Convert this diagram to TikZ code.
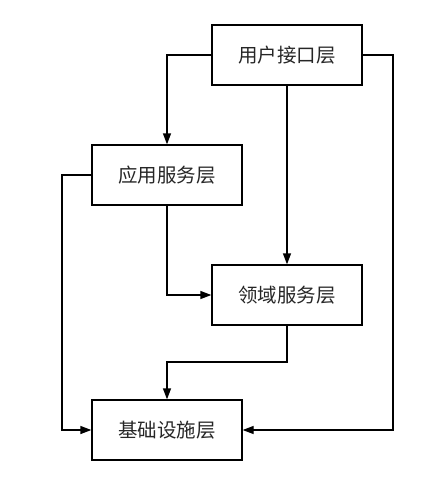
\documentclass[tikz,border=0pt]{standalone}
\usepackage{fontspec}
\newfontfamily\cjk{Noto Sans CJK SC}[Scale=1]
\usetikzlibrary{arrows.meta}
\begin{document}
\begin{tikzpicture}[x=1pt,y=-1pt,
  layer/.style={draw,line width=1.3pt,minimum width=150pt,minimum height=60pt,inner sep=0pt,text=black!85,font=\cjk\fontsize{19.5}{22}\selectfont},
  conn/.style={line width=1.3pt,-{Triangle[length=11pt,width=8pt]}}]
\useasboundingbox (0,0) rectangle (444,477);
\node[layer] (ui) at (287,55) {用户接口层};
\node[layer] (app) at (167,175) {应用服务层};
\node[layer] (dom) at (287,295) {领域服务层};
\node[layer] (inf) at (167,430) {基础设施层};
\coordinate (lx) at (62,0);
\coordinate (rx) at (393,0);
\coordinate (mid) at (0,362);
\draw[conn] (ui.west) -| (app.north);
\draw[conn] (ui.south) -- (dom.north);
\draw[conn] (app.south) |- (dom.west);
\draw[conn] (dom.south) -- (dom.south |- mid) -| (inf.north);
\draw[conn] (app.west) -- (lx |- app.west) |- (inf.west);
\draw[conn] (ui.east) -- (rx |- ui.east) |- (inf.east);
\end{tikzpicture}
\end{document}
